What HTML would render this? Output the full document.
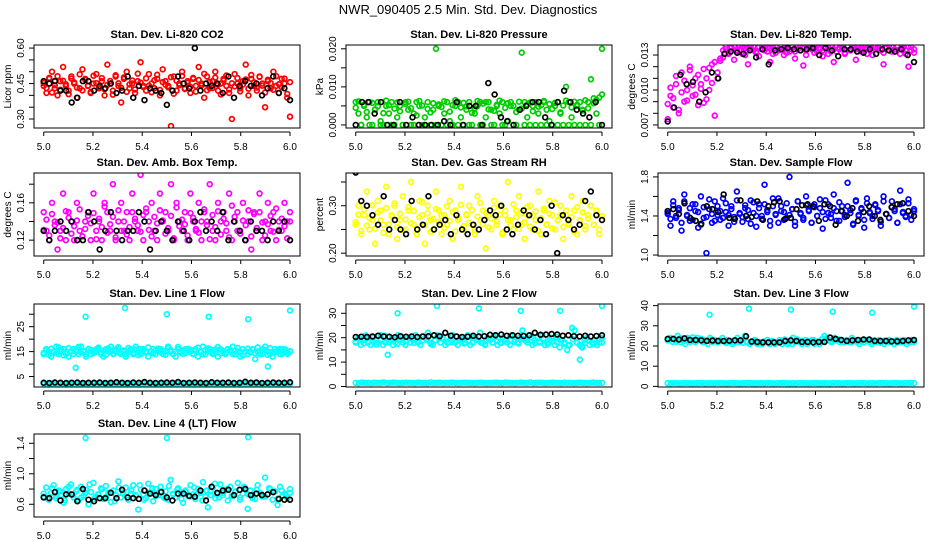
<!DOCTYPE html>
<html><head><meta charset="utf-8"><style>
html,body{margin:0;padding:0;background:#fff;}
svg{display:block;font-family:"Liberation Sans",Arial,sans-serif;}
</style></head><body>
<svg id="chart" width="936" height="540" viewBox="0 0 936 540" xmlns="http://www.w3.org/2000/svg">
<text x="468" y="14" text-anchor="middle" font-size="13">NWR_090405  2.5 Min. Std. Dev. Diagnostics</text>
</svg>
<script>
// ---------- data ----------
const xTicks = [5.0, 5.2, 5.4, 5.6, 5.8, 6.0];
const outlierTimes = [5.17, 5.33, 5.50, 5.67, 5.83, 6.0];

const co2Color = [.44,.41,.47,.50,.43,.40,.46,.52,.44,.42,.48,.45,.39,.43,.51,.47,.44,.41,.45,.49,.43,.46,.40,.53,.45,.42,.48,.44,.37,.47,.50,.43,.45,.41,.46,.54,.44,.42,.49,.45,.43,.47,.40,.51,.46,.44,.27,.48,.42,.45,.50,.43,.46,.41,.47,.44,.52,.45,.39,.48,.43,.46,.50,.42,.45,.47,.44,.41,.30,.49,.45,.43,.46,.53,.40,.47,.44,.42,.48,.45,.35,.46,.43,.50,.44,.41,.47,.45,.39,.31];
const co2Color2 = [.452,.431,.474,.412,.443,.481,.424,.462,.447,.405,.471,.455,.433,.489,.421,.466,.441,.414,.483,.452,.436,.473,.426,.444,.461,.403,.485,.451,.432,.476,.415,.446,.463,.425,.492,.454,.435,.472,.441,.413,.464,.487,.423,.456,.445,.434,.477,.407,.462,.443,.482,.427,.453,.436,.474,.416,.465,.442,.491,.422,.457,.431,.475,.445,.404,.463,.484,.425,.451,.438,.473,.417,.446,.467,.428,.486,.455,.433,.478,.441,.412,.466,.452,.424,.481,.447,.435,.471,.406,.456];
const co2Black = [.46,.45,.46,.42,.42,.37,.39,.46,.46,.42,.44,.43,.45,.41,.42,.48,.39,.44,.38,.43,.42,.41,.36,.42,.48,.45,.43,.60,.42,.45,.44,.45,.41,.48,.39,.44,.46,.44,.45,.40,.43,.48,.41,.43,.38];

const presColor = [0.006,0.003,0,0.005,0.002,0.006,0,0.004,0.006,0.001,0,0.005,0.003,0.006,0,0.002,0.005,0,0.006,0.004,0,0.003,0.006,0.005,0,0.002,0.006,0,0.004,0.020,0.005,0,0.003,0.006,0.001,0,0.005,0.006,0.002,0,0.004,0.006,0,0.003,0.005,0.006,0,0.002,0.006,0.004,0,0.005,0.003,0.006,0,0.001,0.006,0.005,0,0.004,0.019,0.006,0.002,0,0.005,0.006,0.003,0,0.006,0.004,0.001,0,0.005,0.006,0.003,0,0.010,0.006,0.002,0,0.005,0.006,0.004,0,0.006,0.012,0.007,0.003,0,0.020];
const presColor2 = [0.0045,0.0062,0,0.0053,0.0034,0,0.0058,0.0041,0.0049,0,0.0031,0.0064,0.0052,0,0.0043,0.0059,0.0036,0,0.0055,0.0061,0.0044,0,0.0025,0.0063,0.0051,0,0.0042,0.0033,0.0057,0,0.0054,0.0047,0.0062,0,0.0035,0.0052,0.0065,0,0.0046,0.0058,0.0049,0,0.0032,0.0044,0.0063,0,0.0056,0.0060,0.0041,0,0.0037,0.0053,0.0064,0,0.0045,0.0057,0.0050,0,0.0034,0.0061,0.0043,0,0.0054,0.0059,0.0036,0,0.0048,0.0052,0.0063,0,0.0055,0.0042,0.0058,0,0.0033,0.0051,0.0064,0,0.0046,0.0061,0.0053,0,0.0038,0.0065,0.0044,0,0.0057,0.0066,0.0072,0.0080];
const presBlack = [0,0.006,0.006,0.003,0.006,0,0,0.006,0,0.002,0,0,0,0,0.001,0,0.006,0,0.005,0.005,0,0.011,0.008,0.002,0.001,0,0.004,0.005,0.006,0.006,0.002,0,0.006,0.009,0.006,0.004,0.003,0.002,0.006,0];

const tempColor = [0.0075,0.0095,0.0085,0.0105,0.0080,0.0115,0.0090,0.0100,0.0120,0.0095,0.0110,0.0087,0.0105,0.0118,0.0092,0.0100,0.0122,0.0078,0.0110,0.0125,0.0128,0.0135,0.0132,0.0137,0.0126,0.0134,0.0138,0.0131,0.0136,0.0122,0.0135,0.0137,0.0133,0.0129,0.0138,0.0134,0.0136,0.0124,0.0137,0.0132,0.0135,0.0138,0.0130,0.0136,0.0133,0.0137,0.0127,0.0135,0.0138,0.0121,0.0134,0.0136,0.0137,0.0132,0.0138,0.0135,0.0129,0.0136,0.0137,0.0133,0.0124,0.0138,0.0135,0.0136,0.0131,0.0137,0.0134,0.0138,0.0126,0.0135,0.0137,0.0133,0.0136,0.0138,0.0130,0.0135,0.0137,0.0134,0.0122,0.0136,0.0138,0.0133,0.0135,0.0137,0.0131,0.0136,0.0134,0.0120,0.0137,0.0132];
const tempColor2 = [0.0088,0.0102,0.0093,0.0112,0.0083,0.0098,0.0108,0.0091,0.0117,0.0104,0.0096,0.0113,0.0101,0.0089,0.0110,0.0119,0.0106,0.0124,0.0115,0.0127,0.0134,0.0137,0.0131,0.0136,0.0138,0.0133,0.0135,0.0137,0.0130,0.0136,0.0138,0.0134,0.0132,0.0137,0.0135,0.0138,0.0133,0.0136,0.0131,0.0137,0.0134,0.0138,0.0136,0.0132,0.0135,0.0137,0.0133,0.0138,0.0134,0.0136,0.0130,0.0137,0.0135,0.0138,0.0133,0.0136,0.0134,0.0137,0.0131,0.0138,0.0135,0.0133,0.0136,0.0137,0.0132,0.0138,0.0134,0.0136,0.0135,0.0137,0.0133,0.0138,0.0131,0.0136,0.0134,0.0137,0.0135,0.0138,0.0132,0.0136,0.0134,0.0137,0.0133,0.0138,0.0135,0.0136,0.0131,0.0137,0.0134,0.0135];
const tempBlack = [0.0073,0.0085,0.0113,0.0105,0.0107,0.0090,0.0098,0.0115,0.0110,0.0131,0.0133,0.0132,0.0131,0.0134,0.0128,0.0135,0.0122,0.0134,0.0135,0.0136,0.0135,0.0134,0.0135,0.0136,0.0130,0.0136,0.0134,0.0129,0.0135,0.0135,0.0133,0.0132,0.0135,0.0131,0.0135,0.0134,0.0133,0.0135,0.0130,0.0124];

const ambColor = [.15,.13,.12,.16,.14,.11,.13,.17,.12,.15,.14,.12,.16,.13,.10,.14,.15,.12,.17,.13,.14,.12,.16,.15,.13,.18,.12,.14,.16,.13,.15,.12,.17,.14,.13,.19,.12,.15,.14,.16,.13,.12,.17,.14,.15,.13,.18,.12,.16,.14,.13,.15,.12,.17,.14,.13,.16,.12,.15,.14,.18,.13,.12,.16,.14,.15,.13,.17,.12,.14,.15,.13,.16,.12,.14,.11,.15,.13,.17,.12,.14,.16,.13,.15,.12,.14,.13,.16,.14,.15];
const ambColor2 = [.131,.142,.125,.148,.136,.139,.122,.133,.151,.144,.127,.135,.141,.153,.124,.132,.146,.138,.149,.121,.143,.134,.156,.128,.137,.145,.123,.152,.130,.140,.126,.134,.150,.143,.136,.129,.147,.154,.131,.124,.145,.138,.152,.141,.127,.133,.146,.122,.155,.135,.142,.137,.125,.149,.144,.132,.128,.140,.153,.136,.121,.147,.134,.151,.126,.143,.138,.123,.157,.145,.130,.127,.141,.136,.152,.124,.148,.133,.150,.139,.125,.137,.146,.129,.154,.131,.143,.135,.122,.140];
const ambBlack = [.13,.12,.13,.14,.13,.14,.12,.12,.15,.14,.11,.13,.15,.13,.12,.13,.13,.15,.14,.11,.13,.14,.13,.12,.14,.13,.12,.14,.15,.13,.14,.13,.15,.12,.14,.13,.12,.14,.13,.13,.12,.14,.13,.14,.12];

const rhColor = [.26,.30,.24,.28,.33,.25,.27,.22,.31,.29,.26,.34,.24,.28,.30,.23,.27,.32,.25,.29,.35,.26,.24,.31,.28,.22,.30,.27,.25,.33,.29,.24,.28,.26,.31,.23,.29,.27,.34,.25,.28,.30,.26,.24,.32,.27,.29,.21,.28,.25,.31,.26,.30,.24,.28,.35,.27,.25,.29,.32,.26,.23,.28,.30,.25,.27,.33,.24,.29,.26,.31,.28,.25,.27,.30,.23,.28,.26,.32,.29,.24,.27,.31,.25,.28,.30,.26,.29,.24,.27];
const rhColor2 = [.265,.281,.247,.292,.258,.274,.301,.252,.286,.269,.243,.295,.261,.278,.305,.255,.283,.248,.271,.297,.263,.289,.251,.276,.308,.259,.284,.245,.272,.293,.266,.279,.253,.299,.268,.287,.246,.275,.302,.257,.282,.264,.291,.249,.277,.306,.262,.285,.254,.273,.296,.267,.281,.244,.289,.270,.258,.303,.276,.251,.284,.265,.298,.256,.279,.288,.247,.274,.294,.261,.283,.252,.307,.269,.280,.255,.290,.263,.276,.245,.297,.268,.286,.257,.273,.300,.260,.282,.250,.278];
const rhBlack = [.37,.31,.30,.28,.26,.32,.25,.27,.25,.24,.31,.25,.26,.32,.25,.26,.27,.24,.28,.25,.24,.26,.25,.27,.29,.28,.30,.25,.24,.26,.29,.28,.25,.27,.24,.30,.20,.28,.27,.25,.26,.31,.33,.28,.27];

const flowColor = [1.42,1.30,1.55,1.38,1.48,1.25,1.62,1.40,1.35,1.52,1.45,1.28,1.60,1.38,1.02,1.47,1.33,1.55,1.41,1.36,1.58,1.44,1.30,1.50,1.39,1.65,1.42,1.34,1.48,1.37,1.56,1.43,1.29,1.52,1.40,1.72,1.46,1.35,1.58,1.41,1.33,1.50,1.44,1.38,1.80,1.47,1.30,1.55,1.42,1.36,1.60,1.45,1.33,1.52,1.40,1.48,1.27,1.56,1.43,1.38,1.62,1.45,1.35,1.50,1.41,1.74,1.46,1.32,1.55,1.40,1.48,1.28,1.58,1.43,1.37,1.52,1.45,1.30,1.60,1.42,1.38,1.55,1.47,1.33,1.66,1.44,1.40,1.53,1.36,1.45];
const flowColor2 = [1.43,1.37,1.51,1.40,1.46,1.33,1.55,1.41,1.48,1.36,1.52,1.44,1.31,1.49,1.39,1.57,1.42,1.35,1.50,1.45,1.38,1.53,1.41,1.47,1.34,1.56,1.43,1.39,1.51,1.46,1.32,1.54,1.40,1.48,1.37,1.52,1.44,1.30,1.50,1.42,1.58,1.45,1.36,1.53,1.41,1.47,1.34,1.55,1.43,1.38,1.51,1.46,1.33,1.49,1.40,1.57,1.44,1.37,1.52,1.42,1.48,1.35,1.54,1.45,1.39,1.50,1.43,1.31,1.56,1.41,1.47,1.36,1.53,1.44,1.40,1.51,1.46,1.34,1.55,1.42,1.38,1.49,1.45,1.33,1.52,1.43,1.39,1.57,1.41,1.47];
const flowBlack = [1.45,1.47,1.42,1.53,1.38,1.35,1.32,1.50,1.47,1.44,1.62,1.38,1.37,1.56,1.40,1.39,1.55,1.36,1.50,1.54,1.55,1.37,1.38,1.47,1.51,1.52,1.50,1.35,1.52,1.50,1.31,1.45,1.40,1.48,1.35,1.44,1.50,1.40,1.36,1.42,1.49,1.52,1.53,1.45,1.40];

const line1Band = [14,16,15,13,15,17,14,15,16,14,13,15,16,15,14,17,15,13,16,14,15,15,16,14,13,16,15,17,14,15,16,14,15,13,15,16,14,17,15,14,16,15,13,15,16,14,15,16,14,15,17,15,14,13,16,15,14,16,15,15,14,16,13,15,17,14,15,16,14,15,13,16,15,14,16,15,17,14,15,13,16,15,14,15,16,12,15,14,16,17,15,14,13,16,15,14,16,15,14,15];
const line1Band2 = [14.5,15.5,13.8,16.2,15.1,14.3,16.7,15.8,13.5,14.9,16.4,15.2,14.1,15.7,16.9,14.6,15.3,13.9,16.1,15.6,14.4,15.9,16.6,14.8,15.4,13.7,16.3,15.0,14.2,15.8,16.8,14.7,15.5,14.0,16.5,15.2,14.5,15.9,13.6,16.0,15.3,14.6,16.7,15.1,14.3,15.6,16.2,14.9,15.4,13.8,16.4,15.7,14.1,15.0,16.9,14.7,15.5,14.4,16.1,15.8,14.2,15.3,16.6,14.8,13.9,15.6,16.3,15.0,14.5,15.9,16.8,14.3,15.2,14.6,16.0,15.7,14.0,15.4,16.5,14.9,13.5,15.1,16.2,14.7,15.8,14.4,16.7,15.3,14.1,15.6,13.7,16.4,15.0,14.8,15.5,16.1,14.2,15.9,14.6,15.2];
const line1Low = [2.1,2.2,2.0,2.2,2.1,2.3,2.0,2.1,2.2,2.1,2.0,2.2,2.1,2.3,2.1,2.0,2.2,2.1,2.2,2.0,2.1,2.3,2.1,2.0,2.2,2.1,2.2,2.0,2.1,2.2,2.1,2.0,2.2,2.1,2.3,2.0,2.1,2.2,2.1,2.0,2.2,2.1,2.0,2.1,2.2,2.3,2.1,2.0,2.1,2.2,2.1,2.2,2.0,2.1,2.2,2.1,2.3,2.1,2.0,2.2,2.1,2.2,2.0,2.1,2.1,2.2,2.0,2.3,2.1,2.2,2.1,2.0,2.2,2.1,2.2,2.0,2.1,2.2,2.1,2.1];
const line1Black = [2.5,2.4,2.6,2.5,2.4,2.5,2.6,2.4,2.5,2.5,2.6,2.4,2.5,2.7,2.5,2.4,2.6,2.5,2.8,2.5,2.4,2.5,2.6,2.5,2.8,2.4,2.5,2.6,2.5,2.4,2.7,2.5,2.5,2.6,2.4,2.5,2.9,2.5,2.6,2.4,2.5,2.6,2.5,2.5,2.7];
const line1Out = [29, 32.5, 30, 29, 28, 31.5];
const line1OutLowT = [5.13, 5.91];
const line1OutLow = [8.5, 9];

const line2Band = [18,20,17,19,21,18,17,20,19,18,21,17,18,20,19,17,18,21,19,18,17,20,18,19,21,18,17,19,20,22,18,17,19,21,18,20,17,18,19,21,18,17,20,19,18,21,17,18,20,19,22,18,17,20,19,18,21,17,18,20,19,18,17,21,19,18,20,23,19,18,21,17,19,20,18,21,17,18,19,20,17,18,16,19,18,15,17,24,23,18,17,16,19,20,17,18,19,17,18,20];
const line2Band2 = [18.4,19.6,17.7,20.3,18.9,17.2,19.1,20.8,18.1,19.4,17.5,20.1,18.6,19.9,17.9,18.3,20.5,19.2,17.4,18.8,20.0,19.5,17.8,18.2,20.6,19.0,17.6,18.7,20.2,19.3,18.0,17.3,19.8,20.4,18.5,17.9,19.1,20.7,18.3,17.6,19.6,18.9,20.1,17.8,18.4,19.7,17.2,18.6,20.3,19.0,17.5,16.8,19.4,18.1,16.5,17.9,18.8,17.3,19.2,18.0];
const line2Low = [1.5,1.4,1.6,1.5,1.5,1.4,1.6,1.5,1.5,1.7,1.4,1.5,1.6,1.5,1.4,1.5,1.6,1.5,1.5,1.4,1.6,1.5,1.5,1.4,1.7,1.5,1.5,1.6,1.4,1.5,1.5,1.6,1.5,1.4,1.5,1.6,1.5,1.5,1.4,1.5,1.6,1.5,1.4,1.5,1.5,1.6,1.5,1.4,1.6,1.5,1.5,1.4,1.5,1.6,1.5,1.5,1.7,1.4,1.5,1.6,1.5,1.4,1.5,1.6,1.5,1.5,1.4,1.6,1.5,1.5,1.4,1.5,1.6,1.5,1.4,1.5,1.6,1.5,1.5,1.5];
const line2Black = [20.3,20.4,20.3,20.5,20.8,20.5,20.4,20.2,20.6,20.4,20.5,20.3,20.5,20.6,21.0,20.6,22.0,20.8,20.5,20.3,20.4,20.8,20.5,20.6,21.2,21.0,21.3,20.8,21.0,20.8,20.7,21.0,22.0,21.2,21.3,21.5,21.3,20.8,21.0,20.6,20.5,20.8,20.5,20.7,21.0];
const line2Out = [30, 33, 32, 31, 31, 33];
const line2OutLowT = [5.13, 5.91];
const line2OutLow = [13, 11];

const line3Band = [23,24,22,23,25,22,23,21,24,22,23,22,24,23,22,23,21,24,22,23,22,23,24,22,23,22,21,23,24,22,23,25,22,21,22,23,21,22,21,22,23,21,22,21,22,23,21,22,21,22,21,22,23,22,21,22,21,22,23,21,22,21,22,25,24,23,22,24,23,22,23,22,23,22,24,23,22,21,23,22,23,22,21,23,22,23,22,21,22,23,22,21,23,22,22,23,21,22,23,22];
const line3Band2 = [22.8,23.4,22.1,23.9,22.5,23.1,24.3,22.7,23.6,22.2,23.0,22.4,21.8,22.6,21.5,22.1,21.7,22.3,21.6,22.0,21.9,22.4,21.4,22.2,21.8,22.5,21.6,22.0,23.2,21.7,24.0,23.3,22.6,23.0,22.4,22.9,22.2,23.5,22.7,22.1,22.8,23.2,22.0,22.5,21.9,22.6,22.3,21.8,22.9,22.1,22.4,21.6,22.7,22.0,22.3,21.7,22.6,22.2,21.9,22.5];
const line3Low = [1.6,1.5,1.7,1.6,1.5,1.6,1.7,1.6,1.5,1.6,1.6,1.7,1.5,1.6,1.6,1.5,1.7,1.6,1.6,1.5,1.6,1.7,1.6,1.5,1.6,1.6,1.7,1.6,1.5,1.6,1.6,1.5,1.7,1.6,1.5,1.6,1.6,1.7,1.6,1.5,1.6,1.5,1.7,1.6,1.6,1.5,1.6,1.7,1.6,1.5,1.6,1.6,1.5,1.7,1.6,1.6,1.5,1.6,1.7,1.6,1.5,1.6,1.6,1.7,1.5,1.6,1.6,1.5,1.7,1.6,1.6,1.5,1.6,1.7,1.6,1.5,1.6,1.6,1.7,1.6];
const line3Black = [23.5,23.5,23.2,23.8,23.0,23.0,22.8,22.5,22.7,22.5,22.5,22.6,22.8,22.8,24.8,22.2,22.0,21.8,21.8,21.8,21.8,22.5,22.8,22.5,22.0,22.0,21.8,22.0,22.0,24.2,23.5,23.0,22.5,22.8,23.0,23.2,23.2,22.5,22.5,22.5,22.3,22.3,22.5,22.8,23.0];
const line3Out = [35.5, 38.5, 38, 37, 36.5, 39.5];

const line4Band = [.70,.82,.66,.75,.85,.68,.78,.72,.62,.80,.74,.86,.69,.77,.65,.83,.71,.79,.60,.76,.88,.70,.73,.81,.67,.84,.75,.63,.78,.72,.90,.69,.76,.82,.66,.74,.85,.71,.53,.79,.73,.68,.87,.75,.64,.80,.72,.83,.70,.77,.66,.92,.74,.69,.81,.76,.62,.78,.71,.85,.73,.67,.80,.75,.89,.70,.56,.77,.82,.68,.74,.86,.72,.79,.65,.83,.71,.76,.88,.69,.74,.81,.54,.78,.72,.67,.85,.75,.70,.95,.73,.80,.66,.77,.59,.83,.71,.74,.68,.80];
const line4Band2 = [.74,.68,.81,.71,.77,.65,.83,.72,.79,.69,.75,.86,.67,.73,.80,.70,.76,.64,.82,.74,.69,.78,.72,.85,.66,.75,.81,.71,.77,.68,.84,.73,.79,.67,.76,.70,.82,.74,.65,.78,.72,.87,.69,.75,.80,.71,.77,.66,.83,.73,.68,.79,.74,.70,.81,.76,.67,.78,.72,.75];
const line4Black = [.69,.68,.76,.65,.73,.73,.64,.80,.66,.64,.68,.68,.75,.68,.79,.69,.68,.67,.78,.74,.72,.76,.69,.65,.74,.74,.71,.70,.78,.65,.83,.75,.78,.79,.72,.79,.80,.72,.74,.72,.73,.76,.67,.66,.66];
const line4Out = [1.47, 1.47, 1.48];
const line4OutT = [5.17, 5.50, 5.83];

// ---------- layout ----------
const NS = "http://www.w3.org/2000/svg";
const svg = document.getElementById("chart");
const COL_LEFT = [34, 346, 658];
const ROW_TOP = [45, 173, 304, 434];
const BOX_W = 266, BOX_H = 83;
const X_DOMAIN = [4.9606, 6.0406];

function mk(tag, attrs, parent) {
  const e = document.createElementNS(NS, tag);
  for (const k in attrs) e.setAttribute(k, attrs[k]);
  (parent || svg).appendChild(e);
  return e;
}

function makePanel(col, row, title, ylab, yDomain, yTicks, yLabels, fmt) {
  const g = mk("g", {});
  
  
  const L = COL_LEFT[col], T = ROW_TOP[row];
  const xs = v => L + (v - X_DOMAIN[0]) / (X_DOMAIN[1] - X_DOMAIN[0]) * BOX_W;
  const ys = v => T + BOX_H - (v - yDomain[0]) / (yDomain[1] - yDomain[0]) * BOX_H;
  const t = mk("text", {x: L + BOX_W / 2, y: T - 7, "text-anchor": "middle", "font-size": 11, "font-weight": "bold"}, g);
  t.textContent = title;
  
  
  const clipId = "clip" + col + row;
  const cp = mk("clipPath", {id: clipId}, g);
  mk("rect", {x: L, y: T, width: BOX_W, height: BOX_H}, cp);
  const plot = mk("g", {"clip-path": "url(#" + clipId + ")"}, g);
  
  
  const xa = mk("g", {stroke: "#000", "stroke-width": 1}, g);
  
  
  mk("line", {x1: xs(xTicks[0]), x2: xs(xTicks[xTicks.length - 1]), y1: T + BOX_H + 4, y2: T + BOX_H + 4}, xa);
  xTicks.forEach(v => {
    mk("line", {x1: xs(v), x2: xs(v), y1: T + BOX_H + 4, y2: T + BOX_H + 8}, xa);
    const lt = mk("text", {x: xs(v), y: T + BOX_H + 22, "text-anchor": "middle", "font-size": 10, stroke: "none"}, xa);
    lt.textContent = v.toFixed(1);
    
    
  });
  const ya = mk("g", {stroke: "#000", "stroke-width": 1}, g);
  
  
  mk("line", {x1: L, x2: L, y1: ys(yTicks[0]), y2: ys(yTicks[yTicks.length - 1])}, ya);
  yTicks.forEach(v => {
    mk("line", {x1: L - 5, x2: L, y1: ys(v), y2: ys(v)}, ya);
  });
  yLabels.forEach(v => {
    const yy = ys(v);
    const lt = mk("text", {x: L - 10, y: yy, transform: "rotate(-90 " + (L - 10) + " " + yy + ")", "text-anchor": "middle", "font-size": 10, stroke: "none"}, ya);
    lt.textContent = v.toFixed(fmt);
    
    
  });
  const yl = mk("text", {x: L - 23, y: T + BOX_H / 2, transform: "rotate(-90 " + (L - 23) + " " + (T + BOX_H / 2) + ")", "text-anchor": "middle", "font-size": 10}, g);
  yl.textContent = ylab;
  
  
  mk("rect", {x: L, y: T, width: BOX_W, height: BOX_H, fill: "none", stroke: "#000", "stroke-width": 1}, g);
  return {plot, xs, ys};
}

function drawSeries(p, vals, color, name, times) {
  const n = vals.length;
  vals.forEach((v, i) => {
    const tv = times ? times[i] : 5 + i / (n - 1);
    const c = mk("circle", {cx: p.xs(tv), cy: p.ys(v), r: 2.4, fill: "none", stroke: color, "stroke-width": 1.7}, p.plot);
    
    
  });
}

const RED = "#ff0000", GREEN = "#00cd00", MAG = "#ff00ff", YEL = "#ffff00", BLUE = "#0000ff", CYAN = "#00ffff", BLK = "#000";

let p;
p = makePanel(0, 0, "Stan. Dev. Li-820 CO2", "Licor ppm", [0.262, 0.613], [.30,.35,.40,.45,.50,.55,.60], [.30,.45,.60], 2);
drawSeries(p, co2Color, RED, "co2-point"); drawSeries(p, co2Color2, RED, "co2-point"); drawSeries(p, co2Black, BLK, "co2-ref-point");

p = makePanel(1, 0, "Stan. Dev. Li-820 Pressure", "kPa", [-0.0008, 0.021], [0,.005,.010,.015,.020], [0,.010,.020], 3);
drawSeries(p, presColor, GREEN, "pressure-point"); drawSeries(p, presColor2, GREEN, "pressure-point"); drawSeries(p, presBlack, BLK, "pressure-ref-point");

p = makePanel(2, 0, "Stan. Dev. Li-820 Temp.", "degrees C", [0.00674, 0.01386], [.007,.008,.009,.010,.011,.012,.013], [.007,.010,.013], 3);
drawSeries(p, tempColor, MAG, "temp-point"); drawSeries(p, tempColor2, MAG, "temp-point"); drawSeries(p, tempBlack, BLK, "temp-ref-point");

p = makePanel(0, 1, "Stan. Dev. Amb. Box Temp.", "degrees C", [0.103, 0.192], [.12,.14,.16,.18], [.12,.16], 2);
drawSeries(p, ambColor, MAG, "amb-temp-point"); drawSeries(p, ambColor2, MAG, "amb-temp-point"); drawSeries(p, ambBlack, BLK, "amb-temp-ref-point");

p = makePanel(1, 1, "Stan. Dev. Gas Stream RH", "percent", [0.194, 0.369], [.20,.25,.30,.35], [.20,.30], 2);
drawSeries(p, rhColor, YEL, "rh-point"); drawSeries(p, rhColor2, YEL, "rh-point"); drawSeries(p, rhBlack, BLK, "rh-ref-point");

p = makePanel(2, 1, "Stan. Dev. Sample Flow", "ml/min", [0.99, 1.84], [1.0,1.2,1.4,1.6,1.8], [1.0,1.4,1.8], 1);
drawSeries(p, flowColor, BLUE, "sample-flow-point"); drawSeries(p, flowColor2, BLUE, "sample-flow-point"); drawSeries(p, flowBlack, BLK, "sample-flow-ref-point");

p = makePanel(0, 2, "Stan. Dev. Line 1 Flow", "ml/min", [0.8, 34.1], [5,10,15,20,25,30], [5,15,25], 0);
drawSeries(p, line1Band, CYAN, "line1-point"); drawSeries(p, line1Band2, CYAN, "line1-point"); drawSeries(p, line1Low, CYAN, "line1-low-point");
drawSeries(p, line1Out, CYAN, "line1-outlier", outlierTimes); drawSeries(p, line1OutLow, CYAN, "line1-outlier", line1OutLowT);
drawSeries(p, line1Black, BLK, "line1-ref-point");

p = makePanel(1, 2, "Stan. Dev. Line 2 Flow", "ml/min", [-0.2, 33.8], [0,5,10,15,20,25,30], [0,10,20,30], 0);
drawSeries(p, line2Band, CYAN, "line2-point"); drawSeries(p, line2Band2, CYAN, "line2-point"); drawSeries(p, line2Low, CYAN, "line2-low-point");
drawSeries(p, line2Out, CYAN, "line2-outlier", outlierTimes); drawSeries(p, line2OutLow, CYAN, "line2-outlier", line2OutLowT);
drawSeries(p, line2Black, BLK, "line2-ref-point");

p = makePanel(2, 2, "Stan. Dev. Line 3 Flow", "ml/min", [-0.3, 40.8], [0,10,20,30,40], [0,10,20,30,40], 0);
drawSeries(p, line3Band, CYAN, "line3-point"); drawSeries(p, line3Band2, CYAN, "line3-point"); drawSeries(p, line3Low, CYAN, "line3-low-point");
drawSeries(p, line3Out, CYAN, "line3-outlier", outlierTimes);
drawSeries(p, line3Black, BLK, "line3-ref-point");

p = makePanel(0, 3, "Stan. Dev. Line 4 (LT) Flow", "ml/min", [0.433, 1.522], [.6,.8,1.0,1.2,1.4], [.6,1.0,1.4], 1);
drawSeries(p, line4Band, CYAN, "line4-point"); drawSeries(p, line4Band2, CYAN, "line4-point");
drawSeries(p, line4Out, CYAN, "line4-outlier", line4OutT);
drawSeries(p, line4Black, BLK, "line4-ref-point");
</script>
</body></html>
